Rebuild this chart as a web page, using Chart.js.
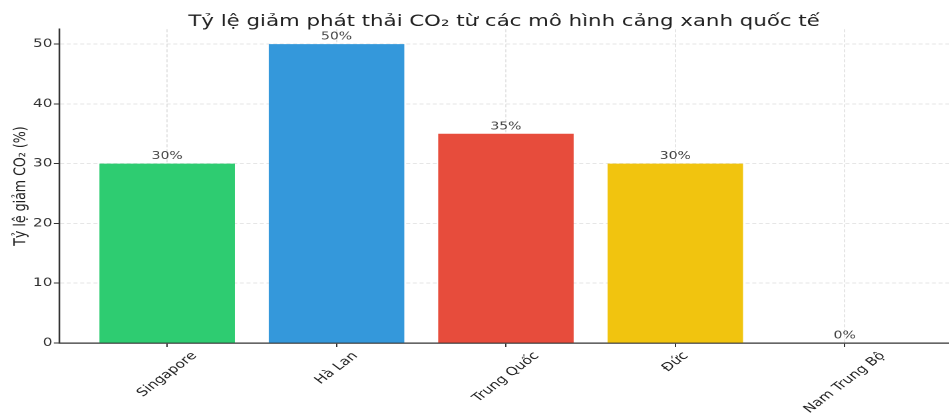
<!DOCTYPE html>
<html lang="vi">
<head>
<meta charset="utf-8">
<title>Tỷ lệ giảm phát thải CO₂</title>
<script src="https://cdn.jsdelivr.net/npm/chart.js@4.4.1/dist/chart.umd.min.js"></script>
<style>
  html, body { margin: 0; padding: 0; background: #fff; overflow: hidden; }
  /* the reference is stretched sideways, so the canvas is drawn narrower and widened */
  #wrap { width: 713px; height: 413px; transform: scaleX(1.331); transform-origin: 0 0; }
</style>
</head>
<body>
<div id="wrap"><canvas id="co2-chart"></canvas></div>
<script>
// data
const categories = ['Singapore', 'Hà Lan', 'Trung Quốc', 'Đức', 'Nam Trung Bộ'];
const reductionValues = [30, 50, 35, 30, 0];
const barColors = ['#2ecc71', '#3498db', '#e74c3c', '#f1c40f', '#95a5a6'];
const yTicks = [0, 10, 20, 30, 40, 50];

const FONT = 'DejaVu Sans';
const GRID_COLOR = 'rgba(170, 170, 170, 0.4)';
const AXIS_COLOR = '#333';

// value labels above bars + rotated category labels (centred on tick like matplotlib)
const labelPlugin = {
  id: 'labelPlugin',
  afterDraw(chart) {
    const ctx = chart.ctx;
    const xScale = chart.scales.x;
    const yScale = chart.scales.y;

    ctx.save();
    ctx.fillStyle = '#444';
    ctx.font = '10.5px "' + FONT + '"';
    ctx.textAlign = 'center';
    ctx.textBaseline = 'bottom';
    reductionValues.forEach((v, i) => {
      ctx.fillText(v + '%', xScale.getPixelForValue(i), yScale.getPixelForValue(v) - 2);
    });

    ctx.fillStyle = '#222';
    ctx.font = '11.5px "' + FONT + '"';
    ctx.textBaseline = 'middle';
    categories.forEach((name, i) => {
      const w = ctx.measureText(name).width;
      const boxH = (w + 11.5) * Math.SQRT1_2;
      const x = xScale.getPixelForValue(i);
      const y = yScale.bottom + 7 + boxH / 2;
      ctx.save();
      ctx.translate(x, y);
      ctx.rotate(-Math.PI / 4);
      ctx.fillText(name, 0, 0);
      ctx.restore();
    });
    ctx.restore();
  }
};

const ctx = document.getElementById('co2-chart').getContext('2d');
const co2Chart = new Chart(ctx, {
  type: 'bar',
  data: {
    datasets: [{
      data: categories.map((c, i) => ({ x: i, y: reductionValues[i] })),
      backgroundColor: barColors,
      borderWidth: 0,
      barPercentage: 1,
      categoryPercentage: 0.8
    }]
  },
  options: {
    responsive: true,
    maintainAspectRatio: false,
    animation: false,
    devicePixelRatio: 2,
    layout: { padding: 0 },
    scales: {
      x: {
        type: 'linear',
        min: -0.638,
        max: 4.616,
        offset: false,
        z: 1,
        afterFit: s => { s.height = 70; },
        afterBuildTicks: s => { s.ticks = categories.map((c, i) => ({ value: i })); },
        ticks: { display: false },
        grid: { offset: false, color: GRID_COLOR, lineWidth: 0.8, tickColor: AXIS_COLOR, tickLength: 4, tickWidth: 1 },
        border: { color: AXIS_COLOR, width: 1.2, dash: [3, 2] }
      },
      y: {
        min: 0,
        max: 52.5,
        z: 1,
        afterFit: s => { s.width = 44.4; },
        afterBuildTicks: s => { s.ticks = yTicks.map(v => ({ value: v })); },
        ticks: { color: AXIS_COLOR, padding: 1, font: { family: FONT, size: 11.5 } },
        grid: { color: GRID_COLOR, lineWidth: 0.8, tickColor: AXIS_COLOR, tickLength: 4, tickWidth: 1 },
        border: { color: AXIS_COLOR, width: 1.2, dash: [3, 2] },
        title: {
          display: true,
          text: 'Tỷ lệ giảm CO₂ (%)',
          color: '#222',
          font: { family: FONT, size: 12.6 },
          padding: { top: 8.4, bottom: 0 }
        }
      }
    },
    plugins: {
      legend: { display: false },
      tooltip: { enabled: false },
      title: {
        display: true,
        fullSize: false,
        text: 'Tỷ lệ giảm phát thải CO₂ từ các mô hình cảng xanh quốc tế',
        color: '#222',
        font: { family: FONT, size: 16, weight: 'normal' },
        padding: { top: 12, bottom: -2 }
      }
    }
  },
  plugins: [labelPlugin]
});
</script>
</body>
</html>
